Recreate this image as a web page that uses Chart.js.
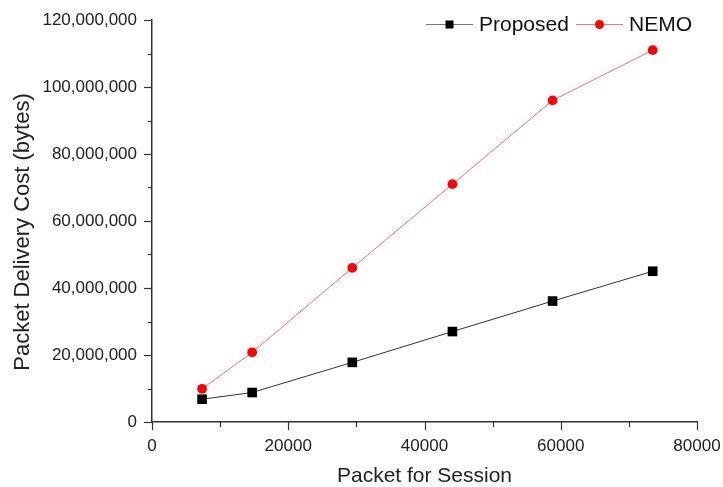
<!DOCTYPE html>
<html>
<head>
<meta charset="utf-8">
<script src="https://cdn.jsdelivr.net/npm/chart.js@4.4.1/dist/chart.umd.min.js"></script>
<style>
  html, body { margin: 0; padding: 0; background: #fff; }
  #wrap { width: 723px; height: 487px; }
</style>
</head>
<body>
<div id="wrap"><canvas id="chart" width="723" height="487"></canvas></div>
<script>
// 데이터
const packets = [7350, 14700, 29400, 44100, 58800, 73500];
const proposedCost = [6800000, 8800000, 17800000, 27000000, 36100000, 45000000];
const nemoCost = [9900000, 20800000, 46000000, 71000000, 96000000, 111000000];
const seriesNames = ["Proposed", "NEMO"];
const xTitle = "Packet for Session";
const yTitle = "Packet Delivery Cost (bytes)";
const xTicksMax = 80000;
const yTicksMax = 120000000;

const FONT = "'Liberation Sans', Arial, sans-serif";
const AXIS = "#333";

// 작은 눈금(minor tick) + 큰 눈금
const tickPlugin = {
  id: 'ticks',
  afterDraw(chart) {
    const { ctx, scales: { x, y } } = chart;
    ctx.save();
    ctx.strokeStyle = AXIS;
    ctx.lineWidth = 1.2;
    for (let v = 0; v <= xTicksMax; v += 10000) {
      const px = Math.round(x.getPixelForValue(v)) + 0.5;
      const len = v % 20000 === 0 ? 8 : 5;
      ctx.beginPath();
      ctx.moveTo(px, y.bottom);
      ctx.lineTo(px, y.bottom + len);
      ctx.stroke();
    }
    for (let v = 0; v <= yTicksMax; v += 10000000) {
      const py = Math.round(y.getPixelForValue(v)) + 0.5;
      const len = v % 20000000 === 0 ? 8 : 4;
      ctx.beginPath();
      ctx.moveTo(x.left, py);
      ctx.lineTo(x.left - len, py);
      ctx.stroke();
    }
    ctx.restore();
  }
};

// 축 제목 (y 제목은 원본처럼 약간 아래로)
const titlePlugin = {
  id: 'axisTitles',
  afterDraw(chart) {
    const { ctx, chartArea } = chart;
    ctx.save();
    ctx.fillStyle = '#222';
    ctx.textAlign = 'center';
    ctx.textBaseline = 'alphabetic';
    ctx.font = `21px ${FONT}`;
    ctx.fillText(xTitle, (chartArea.left + chartArea.right) / 2, 482);
    ctx.translate(29, 232);
    ctx.rotate(-Math.PI / 2);
    ctx.font = `22px ${FONT}`;
    ctx.fillText(yTitle, 0, 0);
    ctx.restore();
  }
};

// 범례 (선 + 마커)
const legendPlugin = {
  id: 'lineLegend',
  afterDraw(chart) {
    const { ctx } = chart;
    const items = [
      { text: seriesNames[0], x: 426, line: '#777', mark: 'rect', fill: '#000' },
      { text: seriesNames[1], x: 576, line: '#ff7070', mark: 'circle', fill: '#ff0000' }
    ];
    const cy = 24.5;
    ctx.save();
    ctx.font = `21px ${FONT}`;
    ctx.textBaseline = 'middle';
    items.forEach(it => {
      ctx.strokeStyle = it.line;
      ctx.lineWidth = 1;
      ctx.beginPath();
      ctx.moveTo(it.x, cy);
      ctx.lineTo(it.x + 47, cy);
      ctx.stroke();
      ctx.fillStyle = it.fill;
      const mx = it.x + 23.5;
      if (it.mark === 'rect') {
        ctx.fillRect(mx - 4, cy - 4, 8, 8);
      } else {
        ctx.beginPath();
        ctx.arc(mx, cy, 4.5, 0, Math.PI * 2);
        ctx.fill();
      }
      ctx.fillStyle = '#111';
      ctx.fillText(it.text, it.x + 53, cy + 1);
    });
    ctx.restore();
  }
};

new Chart(document.getElementById('chart'), {
  type: 'line',
  data: {
    labels: packets,
    datasets: [
      {
        label: seriesNames[0],
        data: packets.map((p, i) => ({ x: p, y: proposedCost[i] })),
        borderColor: '#333',
        borderWidth: 1,
        pointStyle: 'rect',
        pointRadius: 6.8,
        pointBackgroundColor: '#000',
        pointBorderColor: '#000',
        pointBorderWidth: 0,
        tension: 0
      },
      {
        label: seriesNames[1],
        data: packets.map((p, i) => ({ x: p, y: nemoCost[i] })),
        borderColor: '#ff6a6a',
        borderWidth: 1,
        pointStyle: 'circle',
        pointRadius: 4.9,
        pointBackgroundColor: '#ff0000',
        pointBorderColor: '#ff0000',
        pointBorderWidth: 0,
        tension: 0
      }
    ]
  },
  options: {
    responsive: false,
    animation: false,
    devicePixelRatio: 1,
    layout: { padding: { top: 20, right: 26, bottom: 0, left: 0 } },
    plugins: {
      legend: { display: false },
      tooltip: { enabled: false }
    },
    scales: {
      x: {
        type: 'linear',
        min: 0,
        max: xTicksMax,
        afterFit: s => { s.height = 65; s.paddingLeft = 0; s.paddingRight = 0; },
        grid: { display: false, drawTicks: false },
        border: { display: true, color: AXIS, width: 1.5 },
        ticks: {
          stepSize: 20000,
          padding: 14,
          color: '#222',
          font: { family: FONT, size: 17 },
          maxRotation: 0,
          callback: v => String(v)
        }
      },
      y: {
        min: 0,
        max: yTicksMax,
        afterFit: s => { s.width = 152; s.paddingTop = 0; s.paddingBottom = 0; },
        grid: { display: false, drawTicks: false },
        border: { display: true, color: AXIS, width: 1.5 },
        ticks: {
          stepSize: 20000000,
          padding: 15,
          color: '#222',
          font: { family: FONT, size: 17 },
          callback: v => v.toLocaleString('en-US')
        }
      }
    }
  },
  plugins: [tickPlugin, titlePlugin, legendPlugin]
});
</script>
</body>
</html>
